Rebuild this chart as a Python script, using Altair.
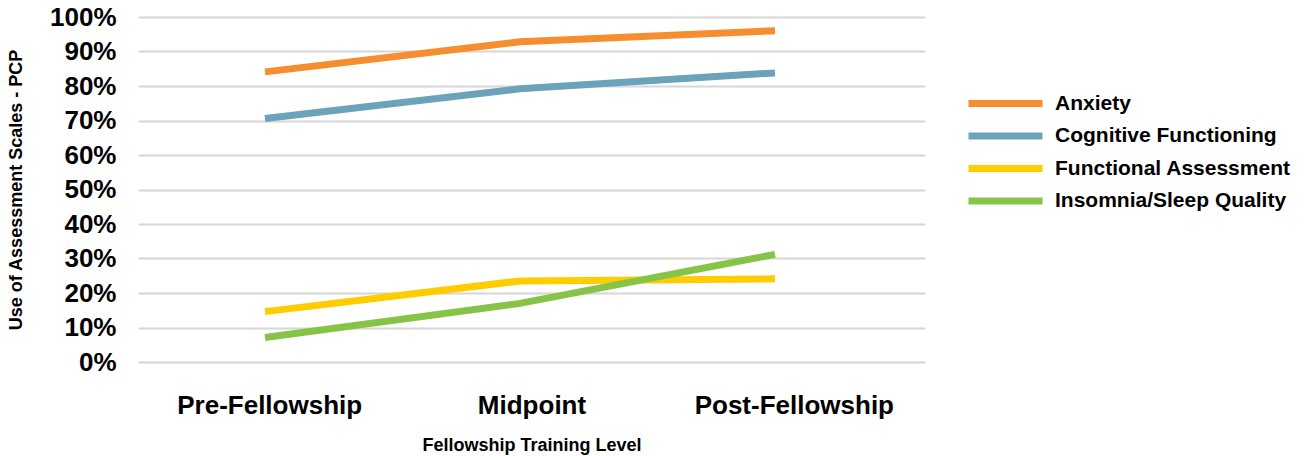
import altair as alt
import pandas as pd

# Training stages and the share of PCPs using each assessment scale
stages = ["Pre-Fellowship", "Midpoint", "Post-Fellowship"]
series = ["Anxiety", "Cognitive Functioning", "Functional Assessment", "Insomnia/Sleep Quality"]
anxiety = [0.841, 0.928, 0.960]
cognitive = [0.706, 0.792, 0.838]
functional = [0.146, 0.235, 0.241]
insomnia = [0.071, 0.170, 0.312]
colors = ["#F68D2E", "#6AA3BA", "#FFCC00", "#86C447"]
y_ticks = [0.0, 0.1, 0.2, 0.3, 0.4, 0.5, 0.6, 0.7, 0.8, 0.9, 1.0]

values = [anxiety, cognitive, functional, insomnia]
rows = []
for name, vals in zip(series, values):
    for stage, v in zip(stages, vals):
        rows.append({"stage": stage, "scale": name, "value": v})
df = pd.DataFrame(rows)

FONT = "Liberation Sans"

y_enc = alt.Y(
    "value:Q",
    scale=alt.Scale(domain=[0, 1]),
    axis=alt.Axis(
        values=y_ticks,
        format=".0%",
        labelOverlap=False,
        title="Use of Assessment Scales - PCP",
        titleFont=FONT, titleFontSize=18, titleFontWeight="bold", titleColor="#000000",
        titlePadding=24,
        labelFont=FONT, labelFontSize=26, labelFontWeight="bold", labelColor="#000000",
        labelPadding=22,
        grid=True, gridColor="#D6D6D6", gridWidth=2,
        domain=False, ticks=False,
    ),
)

lines = alt.Chart(df).mark_line(strokeWidth=7, strokeCap="butt").encode(
    x=alt.X(
        "stage:N",
        sort=stages,
        scale=alt.Scale(type="point", range=[127, 637], padding=0),
        axis=None,
    ),
    y=y_enc,
    color=alt.Color(
        "scale:N",
        sort=series,
        scale=alt.Scale(domain=series, range=colors),
        legend=alt.Legend(
            title=None,
            orient="none",
            legendX=827,
            legendY=74,
            symbolType="stroke",
            symbolSize=5476,
            symbolStrokeWidth=7,
            clipHeight=25,
            rowPadding=7.5,
            labelFont=FONT, labelFontSize=21, labelFontWeight="bold", labelColor="#000000",
            labelOffset=9,
            labelLimit=500,
        ),
    ),
)

# Category axis for the training stages
stage_axis = alt.Chart(df).mark_point(opacity=0).encode(
    x=alt.X(
        "stage:N",
        sort=stages,
        scale=alt.Scale(type="point", padding=0.5),
        axis=alt.Axis(
            title="Fellowship Training Level",
            titleFont=FONT, titleFontSize=18, titleFontWeight="bold", titleColor="#000000",
            titlePadding=18,
            labelFont=FONT, labelFontSize=26, labelFontWeight="bold", labelColor="#000000",
            labelPadding=30, labelAngle=0, labelLimit=500,
            domain=False, ticks=False, grid=False,
        ),
    ),
    y=y_enc,
)

chart = (
    alt.layer(stage_axis, lines)
    .resolve_scale(x="independent")
    .properties(
        width=787,
        height=345,
        padding={"left": 138, "top": 17, "right": 381, "bottom": 94},
        autosize=alt.AutoSizeParams(type="none"),
        background="#FFFFFF",
    )
    .configure_view(strokeWidth=0, stroke="transparent")
    .configure_axis(domain=False, ticks=False)
)

chart.save("out.html", embed_options={"renderer": "svg", "actions": False})
